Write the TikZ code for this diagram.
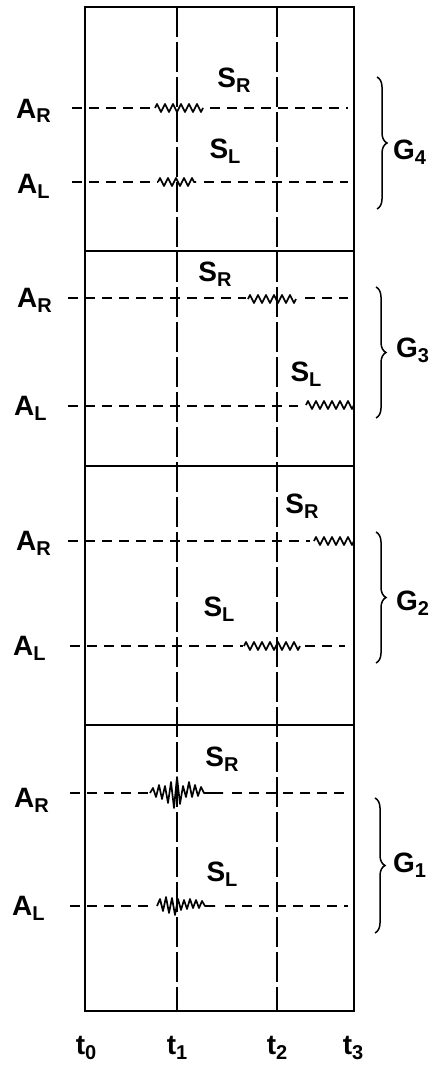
\documentclass[tikz,border=0pt]{standalone}
\usepackage{fontspec}
\setmainfont{Liberation Sans}
\usetikzlibrary{positioning,decorations.pathreplacing,decorations.pathmorphing}
\tikzset{
frame/.style={line width=2pt},
timeline/.style={line width=1.7pt,dash pattern=on 30pt off 5pt},
trace/.style={line width=1.4pt,dash pattern=on 10pt off 7pt},
burst/.style={line width=1.7pt,line join=round,decorate,decoration={zigzag,segment length=8pt,amplitude=4pt}},
spike/.style={line width=1.7pt,line join=round},
lbl/.style={font=\fontsize{28}{28}\selectfont\bfseries,inner sep=0pt},
grp/.style={decorate,decoration={brace,amplitude=10pt},line width=1.5pt}
}
\newcommand{\lsub}[2]{#1\raisebox{-5pt}{\fontsize{20}{20}\selectfont #2}}

\begin{document}
\begin{tikzpicture}[x=1pt,y=-1pt]
\useasboundingbox (0,0) rectangle (446,1070);
\draw[frame] (85,7) rectangle (354,1011);
\foreach \y in {251,466,725} \draw[frame] (85,\y) -- (354,\y);
\draw[timeline] (177,7) -- (177,1011);
\draw[timeline] (277,7) -- (277,1011);

\node[lbl,anchor=base] (t0) at (86,1054) {\lsub{t}{0}};
\node[lbl,anchor=base] (t1) at (177,1054) {\lsub{t}{1}};
\node[lbl,anchor=base] (t2) at (277,1054) {\lsub{t}{2}};
\node[lbl,anchor=base] (t3) at (353,1054) {\lsub{t}{3}};

\node[lbl,anchor=base west] (ar4) at (16,118) {\lsub{A}{R}};
\node[lbl,anchor=base west] (al4) at (17,193) {\lsub{A}{L}};
\node[lbl,anchor=base] (sr4) at (234,88) {\lsub{S}{R}};
\node[lbl,anchor=base] (sl4) at (225,158) {\lsub{S}{L}};
\draw[trace] (72,108) -- (155,108);
\draw[burst] (155,108) -- (203,108);
\draw[trace] (210,108) -- (348,108);
\draw[trace] (72,182) -- (158,182);
\draw[burst] (158,182) -- (196,182);
\draw[trace] (204,182) -- (348,182);
\draw[grp] (377,77) -- (377,209);
\node[lbl,anchor=base west] (g4) at (393,159) {\lsub{G}{4}};

\node[lbl,anchor=base west] (ar3) at (17,307) {\lsub{A}{R}};
\node[lbl,anchor=base west] (al3) at (14,415) {\lsub{A}{L}};
\node[lbl,anchor=base] (sr3) at (215,281) {\lsub{S}{R}};
\node[lbl,anchor=base] (sl3) at (306,381) {\lsub{S}{L}};
\draw[trace] (68,298) -- (246,298);
\draw[burst] (248,299) -- (296,299);
\draw[trace] (305,298) -- (348,298);
\draw[trace] (68,406) -- (298,406);
\draw[burst] (306,405) -- (354,405);
\draw[grp] (376,287) -- (376,418);
\node[lbl,anchor=base west] (g3) at (396,357) {\lsub{G}{3}};

\node[lbl,anchor=base west] (ar2) at (16,550) {\lsub{A}{R}};
\node[lbl,anchor=base west] (al2) at (13,655) {\lsub{A}{L}};
\node[lbl,anchor=base] (sr2) at (302,513) {\lsub{S}{R}};
\node[lbl,anchor=base] (sl2) at (219,616) {\lsub{S}{L}};
\draw[trace] (68,541) -- (310,541);
\draw[burst] (314,541) -- (354,541);
\draw[trace] (70,646) -- (243,646);
\draw[burst] (244,646) -- (300,646);
\draw[trace] (305,646) -- (345,646);
\draw[grp] (376,532) -- (376,663);
\node[lbl,anchor=base west] (g2) at (396,610) {\lsub{G}{2}};

\node[lbl,anchor=base west] (ar1) at (14,807) {\lsub{A}{R}};
\node[lbl,anchor=base west] (al1) at (12,915) {\lsub{A}{L}};
\node[lbl,anchor=base] (sr1) at (222,766) {\lsub{S}{R}};
\node[lbl,anchor=base] (sl1) at (222,881) {\lsub{S}{L}};
\draw[trace] (70,793) -- (148,793);
\draw[spike] (150,793) -- (153,788) -- (156,797) -- (159,785) -- (162,799) -- (165,786) -- (168,803) -- (171,782) -- (174,808) -- (177,777) -- (180,804) -- (183,786) -- (186,797) -- (189,782) -- (192,797) -- (195,785) -- (198,796) -- (201,787) -- (204,793) -- (223,793);
\draw[trace] (232,793) -- (348,793);
\draw[trace] (70,906) -- (155,906);
\draw[spike] (157,906) -- (160,899) -- (163,911) -- (166,897) -- (169,913) -- (172,898) -- (175,915) -- (178,899) -- (181,910) -- (184,900) -- (187,909) -- (190,899) -- (193,908) -- (196,900) -- (199,908) -- (202,901) -- (205,906) -- (215,906);
\draw[trace] (225,906) -- (348,906);
\draw[grp] (375,798) -- (375,933);
\node[lbl,anchor=base west] (g1) at (393,872) {\lsub{G}{1}};
\end{tikzpicture}
\end{document}
